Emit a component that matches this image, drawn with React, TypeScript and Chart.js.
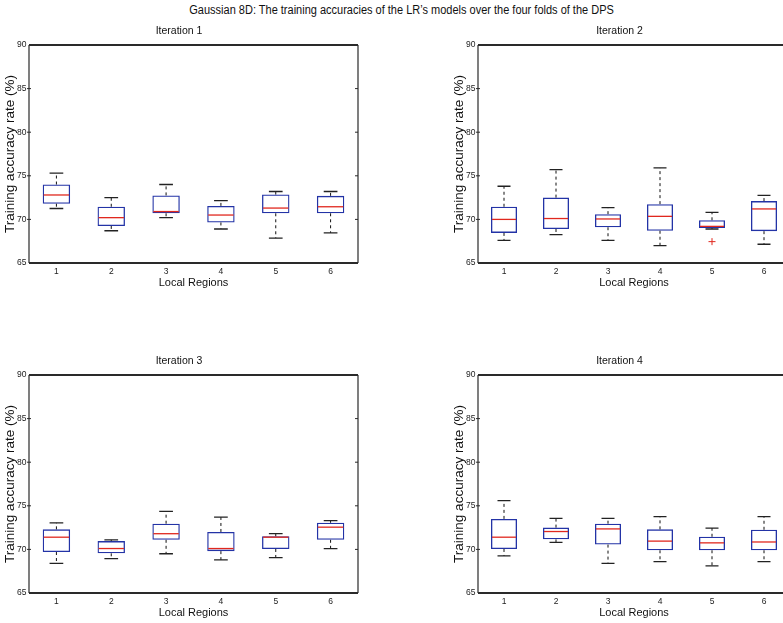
import React, { useEffect, useRef } from "react";
import { Chart, registerables } from "chart.js";

Chart.register(...registerables);

const mainTitle = "Gaussian 8D: The training accuracies of the LR\u2019s models over the four folds of the DPS";
const regions = ["1", "2", "3", "4", "5", "6"];
const yMin = 65;
const yMax = 90;
const yStep = 5;

// Iteration 1
const it1Min = [71.25, 68.7, 70.2, 68.9, 67.85, 68.45];
const it1Q1 = [71.8, 69.25, 70.7, 69.65, 70.7, 70.7];
const it1Med = [72.8, 70.2, 70.9, 70.5, 71.3, 71.45];
const it1Q3 = [74.0, 71.45, 72.75, 71.55, 72.85, 72.7];
const it1Max = [75.3, 72.5, 74.0, 72.15, 73.2, 73.2];
const it1Out: (number | null)[] = [null, null, null, null, null, null];

// Iteration 2
const it2Min = [67.6, 68.25, 67.6, 67.0, 68.9, 67.15];
const it2Q1 = [68.45, 68.9, 69.1, 68.7, 69.0, 68.65];
const it2Med = [70.0, 70.1, 70.05, 70.35, 69.2, 71.2];
const it2Q3 = [71.45, 72.5, 70.6, 71.75, 69.9, 72.1];
const it2Max = [73.8, 75.7, 71.35, 75.9, 70.8, 72.75];
const it2Out: (number | null)[] = [null, null, null, null, 67.45, null];

// Iteration 3
const it3Min = [68.4, 68.95, 69.5, 68.8, 69.05, 70.1];
const it3Q1 = [69.7, 69.55, 71.1, 69.8, 70.05, 71.1];
const it3Med = [71.4, 70.1, 71.8, 70.1, 71.4, 72.55];
const it3Q3 = [72.3, 70.95, 72.95, 72.0, 71.5, 73.05];
const it3Max = [73.05, 71.1, 74.35, 73.7, 71.8, 73.3];
const it3Out: (number | null)[] = [null, null, null, null, null, null];

// Iteration 4
const it4Min = [69.25, 70.8, 68.4, 68.6, 68.1, 68.6];
const it4Q1 = [70.05, 71.15, 70.55, 69.9, 69.9, 69.9];
const it4Med = [71.4, 72.05, 72.35, 70.95, 70.75, 70.85];
const it4Q3 = [73.5, 72.5, 72.95, 72.3, 71.45, 72.25];
const it4Max = [75.6, 73.55, 73.55, 73.75, 72.45, 73.75];
const it4Out: (number | null)[] = [null, null, null, null, null, null];

const NARROW = '"Liberation Sans Narrow", "Arial Narrow", "Liberation Sans", Arial, sans-serif';
const SANS = '"Liberation Sans", Arial, sans-serif';
const BLUE = "#2333a6";
const RED = "#e0281e";
const INK = "#222222";

type Stats = { min: number[]; q1: number[]; med: number[]; q3: number[]; max: number[] };

const boxDecor = {
  id: "boxDecor",
  afterDatasetsDraw(chart: any, _args: any, opts: any) {
    const stats: Stats = opts.stats;
    if (!stats) return;
    const ctx = chart.ctx;
    const xs = chart.scales.x;
    const ys = chart.scales.y;
    const meta = chart.getDatasetMeta(0);
    ctx.save();
    for (let i = 0; i < stats.min.length; i++) {
      const cx = xs.getPixelForValue(i);
      const bw = meta.data[i] ? meta.data[i].width : 26;
      const capHalf = bw / 4;
      const pMin = ys.getPixelForValue(stats.min[i]);
      const pQ1 = ys.getPixelForValue(stats.q1[i]);
      const pMed = ys.getPixelForValue(stats.med[i]);
      const pQ3 = ys.getPixelForValue(stats.q3[i]);
      const pMax = ys.getPixelForValue(stats.max[i]);
      // whiskers
      ctx.strokeStyle = "#111";
      ctx.lineWidth = 1;
      ctx.setLineDash([3, 3]);
      ctx.beginPath();
      ctx.moveTo(cx, pQ3);
      ctx.lineTo(cx, pMax);
      ctx.moveTo(cx, pQ1);
      ctx.lineTo(cx, pMin);
      ctx.stroke();
      ctx.setLineDash([]);
      // caps
      ctx.strokeStyle = "#222";
      ctx.lineWidth = 1.3;
      ctx.beginPath();
      ctx.moveTo(cx - capHalf, pMax);
      ctx.lineTo(cx + capHalf, pMax);
      ctx.moveTo(cx - capHalf, pMin);
      ctx.lineTo(cx + capHalf, pMin);
      ctx.stroke();
      // median
      ctx.strokeStyle = RED;
      ctx.lineWidth = 1.3;
      ctx.beginPath();
      ctx.moveTo(cx - bw / 2 + 1, pMed);
      ctx.lineTo(cx + bw / 2 - 1, pMed);
      ctx.stroke();
    }
    // frame
    const { left, right, top, bottom } = chart.chartArea;
    ctx.strokeStyle = "#2a2a2a";
    ctx.lineWidth = 2;
    ctx.beginPath();
    ctx.moveTo(left, top);
    ctx.lineTo(right, top);
    ctx.moveTo(left, bottom);
    ctx.lineTo(right, bottom);
    ctx.stroke();
    ctx.lineWidth = 1.2;
    ctx.beginPath();
    ctx.moveTo(left, top);
    ctx.lineTo(left, bottom);
    ctx.moveTo(right, top);
    ctx.lineTo(right, bottom);
    ctx.stroke();
    // y ticks
    ctx.lineWidth = 1;
    ctx.beginPath();
    for (const t of ys.ticks) {
      if (t.value <= yMin || t.value >= yMax) continue;
      const py = ys.getPixelForValue(t.value);
      ctx.moveTo(left - 2, py);
      ctx.lineTo(left + 2, py);
      ctx.moveTo(right - 3, py);
      ctx.lineTo(right, py);
    }
    ctx.stroke();
    ctx.restore();
  },
};

type BoxChartProps = {
  left: number;
  top: number;
  width: number;
  height: number;
  padRight: number;
  title: string;
  min: number[];
  q1: number[];
  med: number[];
  q3: number[];
  max: number[];
  outliers: (number | null)[];
};

function BoxChart(p: BoxChartProps) {
  const ref = useRef<HTMLCanvasElement | null>(null);
  useEffect(() => {
    if (!ref.current) return;
    const chart = new Chart(ref.current, {
      type: "bar",
      data: {
        labels: regions,
        datasets: [
          {
            type: "bar",
            data: p.q1.map((v, i) => [v, p.q3[i]]),
            backgroundColor: "rgba(0,0,0,0)",
            borderColor: BLUE,
            borderWidth: 1.3,
            borderSkipped: false,
            barPercentage: 0.5,
            categoryPercentage: 1,
          } as any,
          {
            type: "line",
            data: p.outliers,
            showLine: false,
            pointStyle: "cross",
            pointRadius: 3.5,
            pointBorderWidth: 1,
            pointBorderColor: RED,
            borderColor: RED,
            backgroundColor: RED,
          } as any,
        ],
      },
      plugins: [boxDecor],
      options: {
        responsive: false,
        animation: false,
        devicePixelRatio: 1,
        events: [],
        layout: { padding: { left: 0, right: p.padRight, top: 0, bottom: 7 } },
        plugins: {
          legend: { display: false },
          tooltip: { enabled: false },
          title: {
            display: true,
            text: p.title,
            color: "#111",
            font: { family: NARROW, size: 10.5, weight: "normal", lineHeight: 1.2 },
            padding: { top: 25.3, bottom: 7.1 },
          },
          boxDecor: { stats: { min: p.min, q1: p.q1, med: p.med, q3: p.q3, max: p.max } },
        } as any,
        scales: {
          x: {
            grid: { display: false, drawTicks: false },
            border: { display: false },
            ticks: { color: INK, font: { family: NARROW, size: 8.5 }, padding: 3.8, maxRotation: 0 },
            title: {
              display: true,
              text: "Local Regions",
              color: "#111",
              font: { family: NARROW, size: 11, lineHeight: 1.2 },
              padding: { top: 0, bottom: 3.4 },
            },
            afterFit: (s: any) => {
              s.height = 30;
            },
          },
          y: {
            min: yMin,
            max: yMax,
            grid: { display: false, drawTicks: false },
            border: { display: false },
            ticks: { stepSize: yStep, color: INK, font: { family: NARROW, size: 8.5 }, padding: 2.5 },
            title: {
              display: true,
              text: "Training accuracy rate (%)",
              color: "#111",
              font: { family: SANS, size: 13.5, lineHeight: 1.2 },
              padding: { top: 2.5, bottom: 0 },
            },
            afterFit: (s: any) => {
              s.width = 29;
            },
          },
        } as any,
      },
    });
    return () => chart.destroy();
  }, []);
  return (
    <canvas
      ref={ref}
      width={p.width}
      height={p.height}
      style={{ position: "absolute", left: p.left, top: p.top, width: p.width, height: p.height }}
    />
  );
}

export default function App() {
  return (
    <div
      style={{
        position: "absolute",
        left: 0,
        top: 0,
        width: 783,
        height: 623,
        overflow: "hidden",
        background: "#ffffff",
      }}
    >
      <div
        style={{
          position: "absolute",
          left: 10,
          top: 2,
          width: 783,
          textAlign: "center",
          fontFamily: NARROW,
          fontSize: 12.5,
          lineHeight: "16px",
          color: "#111",
          transform: "scaleX(0.88)",
          transformOrigin: "392px 8px",
        }}
      >
        {mainTitle}
      </div>
      <BoxChart left={0} top={0} width={390} height={300} padRight={32} title="Iteration 1"
        min={it1Min} q1={it1Q1} med={it1Med} q3={it1Q3} max={it1Max} outliers={it1Out} />
      <BoxChart left={449} top={0} width={360} height={300} padRight={19} title="Iteration 2"
        min={it2Min} q1={it2Q1} med={it2Med} q3={it2Q3} max={it2Max} outliers={it2Out} />
      <BoxChart left={0} top={330} width={390} height={300} padRight={32} title="Iteration 3"
        min={it3Min} q1={it3Q1} med={it3Med} q3={it3Q3} max={it3Max} outliers={it3Out} />
      <BoxChart left={449} top={330} width={360} height={300} padRight={19} title="Iteration 4"
        min={it4Min} q1={it4Q1} med={it4Med} q3={it4Q3} max={it4Max} outliers={it4Out} />
    </div>
  );
}
